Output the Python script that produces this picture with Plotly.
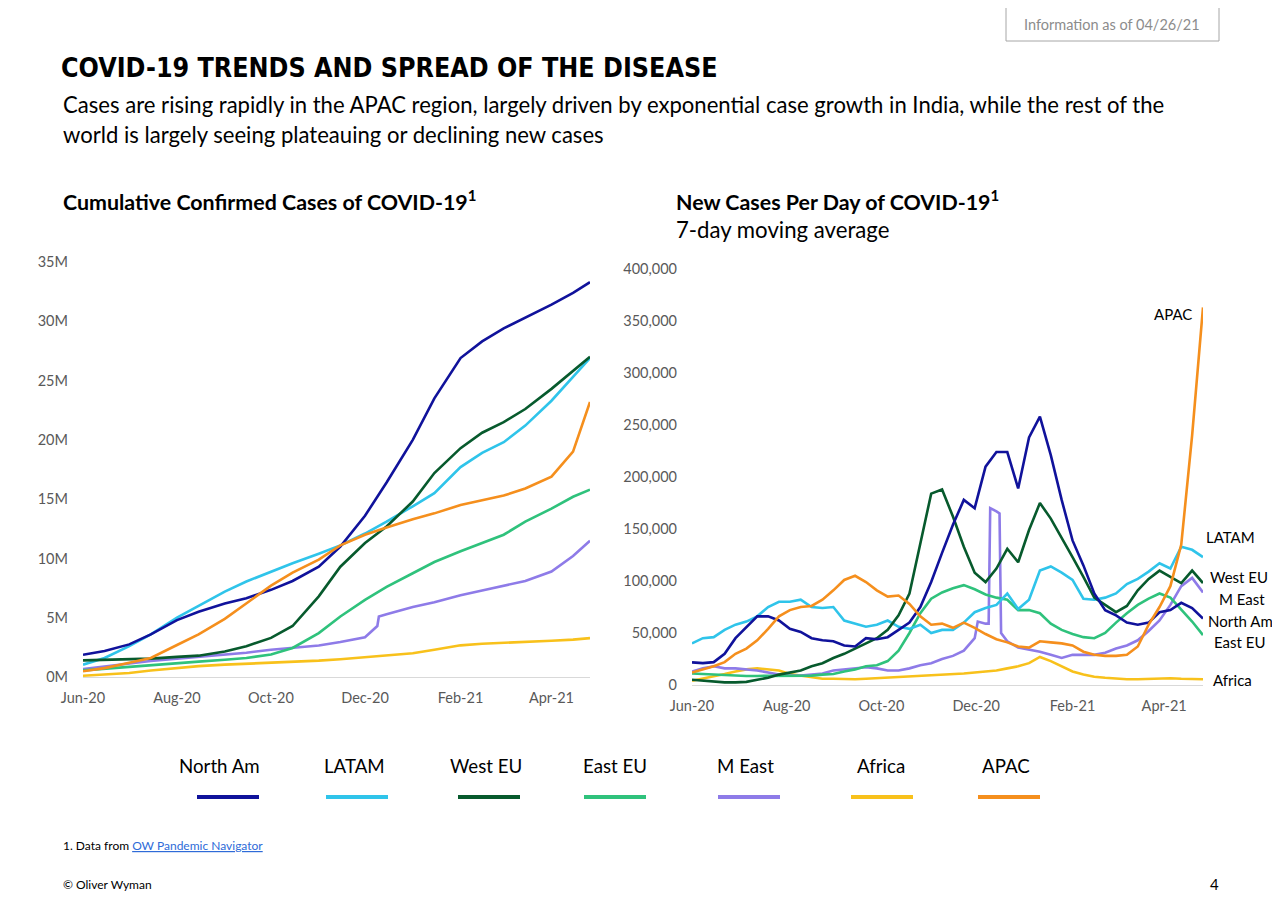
import pandas as pd
import plotly.graph_objects as go

W, H = 1280, 915
# the page body adds an 8 px margin round the figure; positions below are page pixels
PAGE_OFFSET = 8

regions = ["North Am", "LATAM", "West EU", "East EU", "M East", "Africa", "APAC"]
colors = ["#10129b", "#2fc4ea", "#075a2d", "#2fc27c", "#8e7be8", "#f8c11b", "#f58f1d"]

cum_dates = ["2020-06-01", "2020-06-15", "2020-07-01", "2020-07-15", "2020-08-01", "2020-08-15",
             "2020-09-01", "2020-09-15", "2020-10-01", "2020-10-15", "2020-11-01", "2020-11-15",
             "2020-12-01", "2020-12-15", "2021-01-01", "2021-01-15", "2021-02-01", "2021-02-15",
             "2021-03-01", "2021-03-15", "2021-04-01", "2021-04-15", "2021-04-26"]
cum_north_am = [1.88, 2.2, 2.75, 3.6, 4.8, 5.5, 6.2, 6.65, 7.35, 8.1, 9.3, 11.0,
                13.6, 16.4, 20.0, 23.5, 26.9, 28.3, 29.4, 30.3, 31.4, 32.4, 33.3]
cum_latam = [1.04, 1.6, 2.6, 3.6, 5.0, 6.0, 7.2, 8.05, 8.9, 9.6, 10.4, 11.1,
             12.1, 13.1, 14.4, 15.5, 17.7, 18.9, 19.8, 21.2, 23.3, 25.3, 26.9]
cum_west_eu = [1.4, 1.45, 1.5, 1.55, 1.7, 1.8, 2.15, 2.6, 3.3, 4.3, 6.8, 9.3,
               11.3, 12.7, 14.8, 17.2, 19.3, 20.6, 21.5, 22.6, 24.3, 25.8, 27.0]
cum_east_eu = [0.56, 0.7, 0.9, 1.05, 1.2, 1.3, 1.45, 1.6, 1.9, 2.45, 3.7, 5.1,
               6.5, 7.6, 8.75, 9.7, 10.6, 11.3, 12.0, 13.1, 14.2, 15.2, 15.8]
cum_m_east = [0.67, 0.9, 1.15, 1.35, 1.55, 1.7, 1.9, 2.05, 2.3, 2.45, 2.65, 2.95,
              3.35, 5.3, 5.9, 6.3, 6.9, 7.3, 7.7, 8.1, 8.9, 10.2, 11.5]
cum_africa = [0.11, 0.2, 0.34, 0.55, 0.76, 0.92, 1.04, 1.12, 1.18, 1.25, 1.38, 1.5,
              1.68, 1.85, 2.0, 2.3, 2.67, 2.8, 2.9, 2.97, 3.06, 3.15, 3.28]
cum_apac = [0.48, 0.75, 1.2, 1.6, 2.7, 3.6, 4.9, 6.2, 7.7, 8.8, 9.9, 11.1,
            12.0, 12.6, 13.3, 13.8, 14.5, 14.9, 15.3, 15.9, 16.9, 19.0, 23.2]
# M East data dump in December
cum_me_jump_dates = ["2020-12-09", "2020-12-10"]
cum_me_jump = [4.3, 5.1]
cum_ticks = [0, 5, 10, 15, 20, 25, 30, 35]
cum_tick_text = ["0M", "5M", "10M", "15M", "20M", "25M", "30M", "35M"]

# new cases per day, 7-day moving average (thousands), read weekly from Jun 1
new_dates = pd.date_range("2020-06-01", "2021-04-26", freq="7D")
new_north_am = [21.8, 21, 22, 30, 45, 56, 66, 66, 62, 54, 51, 45, 43, 42, 38, 37, 45, 44, 46, 53,
                60, 75, 99, 127, 154, 178, 170, 210, 224, 224, 189, 238, 258, 221, 178, 139, 115, 88,
                72, 67, 60, 58, 60, 70, 72, 79, 74, 64]
new_latam = [40, 45, 46, 53, 58, 61, 66, 75, 80, 80, 82, 75, 74, 75, 62, 59, 56, 58, 62, 56,
             54, 58, 50, 53, 53, 60, 70, 74, 77, 88, 73, 82, 110, 114, 108, 101, 83, 82,
             84, 88, 97, 102, 109, 117, 112, 133, 130, 123]
new_west_eu = [5, 4, 3, 2.5, 2.5, 3, 5, 7, 10, 12, 14, 18, 21, 26, 30, 35, 40, 45, 53, 67,
               88, 136, 184, 188, 162, 133, 108, 99, 112, 131, 118, 149, 175, 160, 142, 123, 104, 84,
               77, 70, 76, 91, 102, 110, 104, 98, 110, 98]
new_east_eu = [11, 10.5, 10, 9, 8.7, 8.7, 8.7, 8.7, 8.7, 8.7, 8.7, 9, 10, 10.5, 13, 15, 18, 19, 23, 33,
               50, 69, 83, 89, 93, 96, 92, 87, 84, 82, 72, 72, 69, 59, 53, 49, 46, 45,
               50, 60, 69, 77, 83, 88, 84, 73, 61, 48]
new_m_east = [13, 16, 18, 16, 16, 15, 14, 12, 10, 9, 9, 10, 11, 14, 15, 16, 17, 16, 14, 14,
              16, 19, 21, 25, 28, 33, 45, 59, 167, 42, 36, 34, 32, 29, 26, 29, 29, 29,
              31, 35, 38, 43, 52, 62, 77, 95, 103, 89]
new_africa = [4, 6, 8, 10.5, 13, 15, 16, 15, 14, 10.5, 9, 7, 6, 6, 5.5, 5.5, 6, 6.5, 7, 8,
              8, 9, 9, 10, 10.5, 11, 12, 13, 14, 16, 18, 21, 27, 23, 18, 13, 10, 8,
              7, 6, 5.5, 5.5, 6, 6.5, 6.5, 6, 6, 5.5]
new_apac = [12, 15, 18, 22, 30, 35, 43, 54, 66, 72, 75, 76, 82, 91, 101, 105, 99, 91, 85, 86,
            78, 66, 58, 59, 55, 60, 55, 49, 44, 41, 37, 36, 42, 41, 40, 38, 32, 29,
            28, 28, 29, 37, 58, 75, 95, 135, 240, 363]
new_me_spike_dates = ["2020-12-02", "2020-12-09", "2020-12-10", "2020-12-16", "2020-12-17"]
new_me_spike = [61, 59, 170, 165, 50]


def px(x):
    return (x - PAGE_OFFSET) / W


def py(y):
    return 1 - (y - PAGE_OFFSET) / H


def series(dates, vals, extra_dates=None, extra_vals=None):
    s = pd.Series(vals, index=pd.to_datetime(dates))
    if extra_dates:
        s = pd.concat([s, pd.Series(extra_vals, index=pd.to_datetime(extra_dates))]).sort_index()
    return s


cum = {
    "North Am": series(cum_dates, cum_north_am),
    "LATAM": series(cum_dates, cum_latam),
    "West EU": series(cum_dates, cum_west_eu),
    "East EU": series(cum_dates, cum_east_eu),
    "M East": series(cum_dates, cum_m_east, cum_me_jump_dates, cum_me_jump),
    "Africa": series(cum_dates, cum_africa),
    "APAC": series(cum_dates, cum_apac),
}
new = {
    "North Am": series(new_dates, new_north_am),
    "LATAM": series(new_dates, new_latam),
    "West EU": series(new_dates, new_west_eu),
    "East EU": series(new_dates, new_east_eu),
    "M East": series(new_dates, new_m_east, new_me_spike_dates, new_me_spike),
    "Africa": series(new_dates, new_africa),
    "APAC": series(new_dates, new_apac),
}

fig = go.Figure()
draw_order = ["Africa", "M East", "East EU", "LATAM", "West EU", "North Am", "APAC"]
for name in draw_order:
    c = colors[regions.index(name)]
    s = cum[name]
    fig.add_trace(go.Scatter(x=s.index, y=s.values, mode="lines", name=name, showlegend=False,
                             line=dict(color=c, width=2.6), xaxis="x", yaxis="y"))
    s = new[name]
    fig.add_trace(go.Scatter(x=s.index, y=s.values * 1000, mode="lines", name=name, showlegend=False,
                             line=dict(color=c, width=2.6), xaxis="x2", yaxis="y2"))

tick_font = dict(family="Lato, sans-serif", size=14.5, color="#595959")
month_ticks = ["2020-06-01", "2020-08-01", "2020-10-01", "2020-12-01", "2021-02-01", "2021-04-01"]
xcommon = dict(type="date", range=["2020-06-01", "2021-04-26"], tickvals=month_ticks, tickformat="%b-%y",
               showgrid=False, zeroline=False, showline=True, linecolor="#d9d9d9", linewidth=1,
               ticks="", tickfont=tick_font, ticklabelstandoff=8, automargin=False)
ycommon = dict(showgrid=False, zeroline=False, showline=False, ticks="", tickfont=tick_font,
               ticklabelstandoff=14, automargin=False)

fig.update_layout(
    template="none",
    width=W, height=H, autosize=False,
    margin=dict(l=0, r=0, t=0, b=0, pad=0),
    showlegend=False,
    paper_bgcolor="white", plot_bgcolor="white",
    xaxis=dict(domain=[px(83), px(590)], anchor="y", **xcommon),
    yaxis=dict(domain=[py(677), py(262)], anchor="x", range=[0, 35], tickvals=cum_ticks,
               ticktext=cum_tick_text, **ycommon),
    xaxis2=dict(domain=[px(692), px(1203)], anchor="y2", **xcommon),
    yaxis2=dict(domain=[py(685), py(269)], anchor="x2", range=[0, 400000],
                tickvals=list(range(0, 400001, 50000)), tickformat=",d", **ycommon),
)

text_font = "Lato, sans-serif"
ann = []


def note(x, y, text, size, color="#000000", xanchor="left", family=text_font):
    ann.append(dict(x=px(x), y=py(y), xref="paper", yref="paper", text=text, showarrow=False,
                    xanchor=xanchor, yanchor="middle", font=dict(family=family, size=size, color=color)))


# header
note(59, 68, "<b>COVID-19 TRENDS AND SPREAD OF THE DISEASE</b>", 26.6,
     family="DejaVu Sans Condensed, Liberation Sans Narrow, Arial Narrow, sans-serif")
note(61, 105, "Cases are rising rapidly in the APAC region, largely driven by exponential case growth in India, "
              "while the rest of the", 22.1)
note(61, 134, "world is largely seeing plateauing or declining new cases", 22.1)
note(1112, 24, "Information as of 04/26/21", 14.5, color="#8c8c8c", xanchor="center")

# chart titles
note(61, 200, "<b>Cumulative Confirmed Cases of COVID-19<sup>1</sup></b>", 21.4)
note(674, 200, "<b>New Cases Per Day of COVID-19<sup>1</sup></b>", 21.4)
note(674, 230, "7-day moving average", 22.2)

# series labels on the daily chart
end_labels = [("APAC", 1173, 314), ("LATAM", 1230, 537), ("West EU", 1239, 577), ("M East", 1242, 599),
              ("North Am", 1240, 621), ("East EU", 1239, 642), ("Africa", 1232, 680)]
for name, x, y in end_labels:
    note(x, y, name, 15, xanchor="center")

# legend: label above a short coloured bar
legend_text_x = [219, 354, 486, 615, 745, 881, 1006]
legend_bar_x = [228, 357, 489, 615, 749, 882, 1009]
shapes = []
for name, c, tx, bx in zip(regions, colors, legend_text_x, legend_bar_x):
    note(tx, 766, name, 18.7, xanchor="center")
    shapes.append(dict(type="line", xref="paper", yref="paper", x0=px(bx - 31), x1=px(bx + 31),
                       y0=py(797), y1=py(797), line=dict(color=c, width=4)))

shapes.append(dict(type="rect", xref="paper", yref="paper", x0=px(1006), x1=px(1219), y0=py(41), y1=py(7),
                   line=dict(color="#a6a6a6", width=1)))

# footer
note(61, 845, "1. Data from <span style=\"color:#2e6bd8;text-decoration:underline\">OW Pandemic Navigator</span>",
     12)
note(61, 884, "© Oliver Wyman", 12)
note(1214, 884, "4", 15, xanchor="center")

fig.update_layout(annotations=ann, shapes=shapes)
fig.write_html("out.html")
